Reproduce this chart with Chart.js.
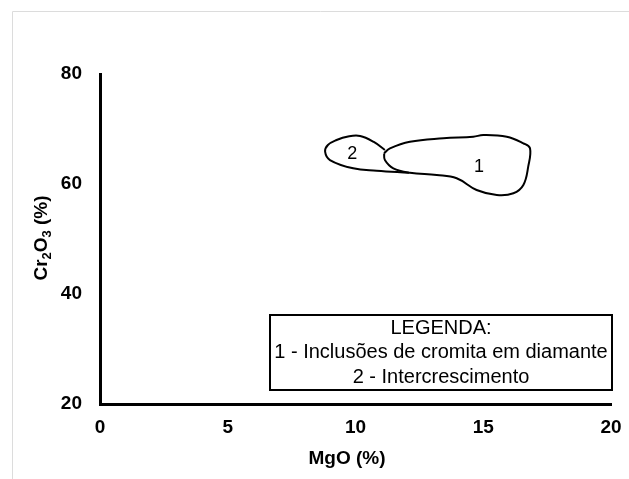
<!DOCTYPE html>
<html lang="pt">
<head>
    <meta charset="UTF-8">
    <title>Cr2O3 x MgO</title>
    <script src="https://cdn.jsdelivr.net/npm/chart.js"></script>
    <style>
        body { margin: 0; background: #fff; }
        #wrap { width: 629px; height: 479px; position: relative; }
    </style>
</head>
<body>
<div id="wrap"><canvas id="chart"></canvas></div>
<script>
    // contour 1 - Inclusões de cromita em diamante (MgO %, Cr2O3 %)
    const field1MgO = [11.12, 11.35, 12.13, 13.44, 14.61, 15.0, 15.92, 16.57, 16.83, 16.76, 16.57, 16.18, 15.53, 14.74, 13.96, 13.18, 12.13, 11.48, 11.15, 11.12];
    const field1Cr = [65.58, 66.49, 67.69, 68.31, 68.6, 68.9, 68.6, 67.4, 66.49, 63.15, 59.82, 58.31, 58.0, 58.91, 61.04, 61.64, 62.05, 62.85, 64.36, 65.58];

    // contour 2 - Intercrescimento (right side shared with contour 1)
    const field2MgO = [12.09, 10.83, 9.91, 9.0, 8.81, 8.92, 9.26, 9.71, 10.18, 10.7, 11.15];
    const field2Cr = [62.05, 62.42, 62.85, 64.36, 65.87, 67.1, 68.0, 68.64, 68.73, 67.69, 66.18];

    const fieldLabels = ["1", "2"];
    const labelMgO = [14.83, 9.87];
    const labelCr = [63.1, 65.45];

    const legendLines = ["LEGENDA:", "1 - Inclusões de cromita em diamante", "2 - Intercrescimento"];

    const xTicks = [0, 5, 10, 15, 20];
    const yTicks = [20, 40, 60, 80];

    const FONT = "'Liberation Sans', Arial, sans-serif";

    function toPoints(xs, ys) {
        return xs.map((x, i) => ({ x: x, y: ys[i] }));
    }

    const extras = {
        id: "extras",
        beforeDraw(chart) {
            const ctx = chart.ctx;
            ctx.save();
            ctx.strokeStyle = "#dcdcdc";
            ctx.lineWidth = 1;
            ctx.beginPath();
            ctx.moveTo(12.5, 479);
            ctx.lineTo(12.5, 11.5);
            ctx.lineTo(629, 11.5);
            ctx.stroke();
            ctx.restore();
        },
        afterDraw(chart) {
            const ctx = chart.ctx;
            const xs = chart.scales.x, ys = chart.scales.y;
            ctx.save();
            ctx.fillStyle = "#000";

            // field numbers
            ctx.font = "18px " + FONT;
            ctx.textAlign = "center";
            ctx.textBaseline = "middle";
            fieldLabels.forEach((t, i) => {
                ctx.fillText(t, xs.getPixelForValue(labelMgO[i]), ys.getPixelForValue(labelCr[i]));
            });

            // legend box
            ctx.fillStyle = "#fff";
            ctx.fillRect(269, 314, 344, 76);
            ctx.strokeStyle = "#000";
            ctx.lineWidth = 2;
            ctx.strokeRect(270, 315, 342, 75);
            ctx.fillStyle = "#000";
            ctx.font = "20px " + FONT;
            legendLines.forEach((t, i) => {
                ctx.fillText(t, 441, 328 + i * 24.5);
            });

            // axis titles
            ctx.font = "bold 19px " + FONT;
            ctx.fillText("MgO (%)", 347, 459);

            ctx.translate(42, 238);
            ctx.rotate(-Math.PI / 2);
            const parts = [["Cr", 19, 0], ["2", 13, 5], ["O", 19, 0], ["3", 13, 5], [" (%)", 19, 0]];
            let total = 0;
            parts.forEach(p => {
                ctx.font = "bold " + p[1] + "px " + FONT;
                total += ctx.measureText(p[0]).width;
            });
            let cx = -total / 2;
            ctx.textAlign = "left";
            parts.forEach(p => {
                ctx.font = "bold " + p[1] + "px " + FONT;
                ctx.fillText(p[0], cx, p[2]);
                cx += ctx.measureText(p[0]).width;
            });
            ctx.restore();
        }
    };

    new Chart(document.getElementById("chart"), {
        type: "scatter",
        data: {
            datasets: [
                {
                    label: "1",
                    data: toPoints(field1MgO, field1Cr),
                    showLine: true,
                    tension: 0.4,
                    borderColor: "#000",
                    borderWidth: 2,
                    pointRadius: 0,
                    fill: false
                },
                {
                    label: "2",
                    data: toPoints(field2MgO, field2Cr),
                    showLine: true,
                    tension: 0.4,
                    borderColor: "#000",
                    borderWidth: 2,
                    pointRadius: 0,
                    fill: false
                }
            ]
        },
        options: {
            responsive: true,
            maintainAspectRatio: false,
            animation: false,
            layout: { padding: { top: 74, right: 18, left: 0, bottom: 0 } },
            plugins: {
                legend: { display: false },
                tooltip: { enabled: false }
            },
            scales: {
                x: {
                    type: "linear",
                    min: 0,
                    max: 20,
                    afterBuildTicks: s => { s.ticks = xTicks.map(v => ({ value: v })); },
                    afterFit: s => { s.height = 75; s.paddingRight = 0; s.paddingLeft = 0; },
                    grid: { display: false, drawTicks: false },
                    border: { color: "#000", width: 3 },
                    ticks: {
                        color: "#000",
                        padding: 12,
                        maxRotation: 0,
                        font: { family: FONT, size: 19, weight: "bold" }
                    }
                },
                y: {
                    type: "linear",
                    min: 20,
                    max: 80,
                    afterBuildTicks: s => { s.ticks = yTicks.map(v => ({ value: v })); },
                    afterFit: s => { s.width = 100; s.paddingTop = 0; s.paddingBottom = 0; },
                    grid: { display: false, drawTicks: false },
                    border: { color: "#000", width: 3 },
                    ticks: {
                        color: "#000",
                        padding: 18,
                        font: { family: FONT, size: 19, weight: "bold" }
                    }
                }
            }
        },
        plugins: [extras]
    });
</script>
</body>
</html>
